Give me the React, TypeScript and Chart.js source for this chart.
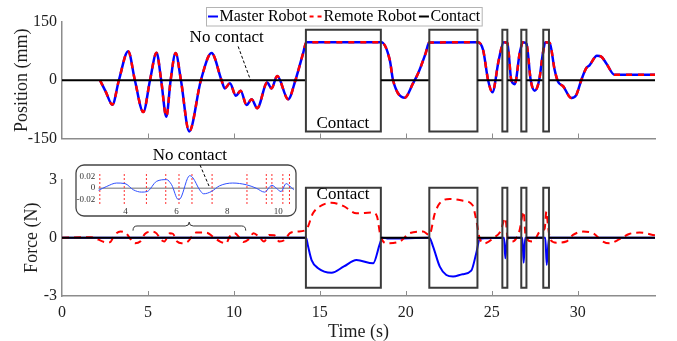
import React, { useEffect, useRef } from 'react';
import { Chart, registerables } from 'chart.js';
Chart.register(...registerables);

const FONT = "'Liberation Serif', 'Times New Roman', serif";

// ---------- data ----------
const timeMax = 34.5;
const timeTicks = [0, 5, 10, 15, 20, 25, 30];
const posTicks = [-150, 0, 150];
const forceTicks = [-3, 0, 3];

const posTime = [2.21, 2.55, 2.93, 3.31, 3.85, 4.24, 4.73, 5.12, 5.5, 5.77, 6.07, 6.32, 6.61, 6.92, 7.4, 8.08, 8.7, 9.28, 9.47, 9.77, 10.12, 10.39, 10.74, 11.03, 11.36, 11.94, 12.19, 12.52, 13.16, 13.58, 14.03, 14.22, 18.58, 19.07, 19.26, 19.94, 20.42, 20.72, 21.16, 21.36, 24.2, 24.5, 24.79, 25.04, 25.41, 25.7, 25.91, 26.14, 26.34, 26.63, 26.82, 27.02, 27.27, 27.5, 27.76, 27.98, 28.12, 28.37, 28.66, 28.86, 29.15, 29.63, 29.92, 30.21, 30.5, 30.7, 31.12, 31.37, 31.66, 32.15, 34.5];
const masterPos = [0, -30, -63, 0, 75, 0, -82, 0, 71, 0, -94, 0, 70, 0, -132, 0, 70, 0, -21, -8, -40, -27, -64, -49, -72, -6, -21, 11, -49, 0, 70, 98, 98, 52, 0, -45, -8, 18, 70, 97, 98, 78, 0, -31, 52, 98, 96, 0, -10, 70, 98, 94, 0, -27, 0, 70, 98, 96, 27, -4, -15, -46, -38, 0, 31, 39, 63, 61, 44, 14, 14];
const remotePos = [0, -30, -63, 0, 75, 0, -82, 0, 71, 0, -94, 0, 70, 0, -132, 0, 70, 0, -21, -8, -40, -27, -64, -49, -72, -6, -21, 11, -49, 0, 70, 98, 98, 52, 0, -45, -8, 18, 70, 97, 98, 78, 0, -31, 52, 98, 96, 0, -10, 70, 98, 94, 0, -27, 0, 70, 98, 96, 27, -4, -15, -46, -38, 0, 31, 39, 63, 61, 44, 14, 14];

const masterForceTime = [0, 14.2, 14.32, 14.52, 14.9, 15.68, 16.4, 17.13, 18.1, 18.5, 18.64, 19.0, 21.37, 21.59, 21.98, 22.36, 22.75, 23.3, 23.81, 24.1, 24.3, 24.6, 25.72, 25.79, 25.91, 26.78, 26.86, 26.95, 28.12, 28.2, 28.33, 34.5];
const masterForce = [0, 0, -0.46, -1.15, -1.57, -1.8, -1.48, -1.15, -1.32, -0.29, 0, -0.05, 0, -0.46, -1.49, -1.92, -2.0, -1.88, -1.7, -0.8, -0.08, -0.03, 0, -1.06, 0, 0, -1.29, 0, 0, -1.4, 0, 0];

const remoteForceTime = [0, 1.7, 2.45, 2.78, 3.06, 3.4, 3.74, 3.95, 4.25, 4.55, 4.82, 5.2, 5.5, 5.75, 5.95, 6.28, 6.45, 6.7, 6.95, 7.3, 7.8, 8.4, 8.78, 9.2, 9.55, 9.75, 10.05, 10.35, 10.55, 10.85, 11.15, 11.45, 11.75, 12.05, 12.35, 12.65, 12.95, 13.26, 13.7, 14.2, 14.6, 14.99, 15.68, 16.36, 17.13, 18.1, 18.33, 18.52, 18.86, 19.65, 20.23, 21.0, 21.37, 21.69, 21.98, 22.56, 23.33, 23.88, 24.1, 24.3, 24.59, 25.08, 25.5, 25.8, 25.92, 26.2, 26.6, 26.86, 26.98, 27.4, 27.85, 28.08, 28.18, 28.27, 28.4, 28.76, 29.34, 29.73, 30.31, 30.89, 31.47, 31.86, 32.44, 33.0, 33.6, 34.5];
const remoteForce = [0, 0.02, -0.22, -0.24, 0.14, 0.32, 0.22, -0.03, -0.29, -0.2, 0.19, 0.31, 0.22, -0.1, -0.2, 0.23, 0.2, -0.2, -0.29, -0.22, 0.26, 0.26, 0.05, -0.2, -0.29, 0.05, 0.23, -0.03, -0.22, -0.1, 0.23, 0.05, -0.2, 0.14, 0.12, -0.2, -0.12, 0.23, 0.31, 0.4, 1.25, 1.6, 1.8, 1.63, 1.25, 1.29, 1.08, 0.14, -0.29, -0.2, 0.23, 0.31, 0.14, 1.25, 1.77, 1.99, 1.9, 1.68, 0.91, -0.03, -0.29, -0.03, 0.31, 1.0, 0.0, -0.2, 0.31, 1.34, 0.0, -0.2, 0.35, 0.46, 1.34, 0.65, -0.08, -0.26, -0.2, 0.14, 0.31, 0.23, -0.2, -0.29, -0.08, 0.19, 0.26, 0.12];

const contactStart = [14.19, 21.37, 25.62, 26.72, 28.0];
const contactEnd = [18.55, 24.17, 25.91, 27.02, 28.33];
const posBoxHigh = 130;
const posBoxLow = -132;
const forceBoxHigh = 2.57;
const forceBoxLow = -2.57;

// inset (zoom of master force during no contact)
const insetMin = 2.93;
const insetMax = 10.63;
const insetYMin = -0.028;
const insetYMax = 0.029;
const insetTimeTicks = [4, 6, 8, 10];
const insetForceTicks = [-0.02, 0, 0.02];
const insetTime = [2.93, 3.26, 3.65, 3.98, 4.31, 4.63, 4.85, 5.22, 5.61, 5.81, 6.07, 6.16, 6.52, 6.65, 6.91, 7.07, 7.37, 7.69, 8.21, 8.74, 9.13, 9.46, 9.75, 9.92, 10.11, 10.31, 10.44, 10.61];
const insetForce = [-0.004, 0.003, 0.009, 0.008, -0.003, -0.007, -0.006, 0.012, 0.015, 0.006, -0.02, -0.018, 0.022, 0.018, -0.003, -0.01, -0.006, 0.004, 0.009, 0.006, 0, -0.007, 0.005, 0, -0.006, 0.008, 0.004, -0.003];
const insetContactTimes = [2.99, 3.95, 4.82, 5.58, 6.1, 6.61, 7.4, 8.77, 9.53, 9.75, 10.18, 10.44];

// ---------- helpers ----------
const AXIS = '#8c8c8c';
const TXT = '#1e1e1e';
const zip = (xs: number[], ys: number[]) => xs.map((x, i) => ({ x, y: ys[i] }));
const setTicks = (vals: number[]) => (scale: any) => { scale.ticks = vals.map((v) => ({ value: v })); };
const fixW = (w: number) => (scale: any) => { scale.width = w; scale.paddingTop = 0; scale.paddingBottom = 0; };
const fixH = (h: number) => (scale: any) => { scale.height = h; scale.paddingLeft = 0; scale.paddingRight = 0; };

function contactLine(high: number, low: number) {
  const pts: any[] = [{ x: 0, y: 0 }];
  contactStart.forEach((s, i) => {
    const e = contactEnd[i];
    pts.push({ x: s, y: 0 }, { x: s, y: high }, { x: e, y: high }, { x: e, y: low }, { x: s, y: low }, { x: s, y: 0 }, { x: (s + e) / 2, y: null }, { x: e, y: 0 });
  });
  pts.push({ x: timeMax, y: 0 });
  return pts;
}

const segColor = (ctx: any) => (ctx.p0.parsed.y === 0 && ctx.p1.parsed.y === 0 ? '#000000' : '#3a3a3a');

const inwardTicks = {
  id: 'inwardTicks',
  afterDraw(chart: any) {
    const xs = chart.scales.x;
    const ctx = chart.ctx;
    ctx.save();
    ctx.strokeStyle = AXIS;
    ctx.lineWidth = 1;
    xs.ticks.forEach((t: any) => {
      if (t.value <= xs.min) return;
      const px = Math.round(xs.getPixelForValue(t.value)) + 0.5;
      ctx.beginPath();
      ctx.moveTo(px, xs.top);
      ctx.lineTo(px, xs.top - 5);
      ctx.stroke();
    });
    ctx.restore();
  },
};

function dashedLeader(ctx: any, x1: number, y1: number, x2: number, y2: number) {
  ctx.save();
  ctx.strokeStyle = '#000';
  ctx.lineWidth = 1;
  ctx.setLineDash([3, 2]);
  ctx.beginPath();
  ctx.moveTo(x1, y1);
  ctx.lineTo(x2, y2);
  ctx.stroke();
  ctx.restore();
}

function text(ctx: any, s: string, x: number, y: number, size: number, align = 'center') {
  ctx.save();
  ctx.font = `${size}px ${FONT}`;
  ctx.fillStyle = '#000';
  ctx.textAlign = align;
  ctx.textBaseline = 'middle';
  ctx.fillText(s, x, y);
  ctx.restore();
}

const topAnnotations = {
  id: 'topAnnotations',
  afterDraw(chart: any) {
    const { ctx } = chart;
    const xs = chart.scales.x;
    const ys = chart.scales.y;
    const px = (v: number) => xs.getPixelForValue(v);
    const py = (v: number) => ys.getPixelForValue(v);
    text(ctx, 'No contact', px(9.58), py(110), 17);
    dashedLeader(ctx, px(10.25), py(87), px(10.97), py(0));
    text(ctx, 'Contact', px(16.34), py(-111), 17);

    // legend
    ctx.save();
    ctx.font = `16px ${FONT}`;
    const yMid = 16.5;
    let x = 208;
    const items = [
      { label: 'Master Robot', color: '#0000ff', dash: [] as number[], w: 10 },
      { label: 'Remote Robot', color: '#ff0000', dash: [4, 4], w: 12.5 },
      { label: 'Contact', color: '#000000', dash: [] as number[], w: 10 },
    ];
    const widths = items.map((it) => ctx.measureText(it.label).width);
    let total = 0;
    items.forEach((it, i) => { total += it.w + 1.5 + widths[i] + (i < items.length - 1 ? 2.5 : 1.5); });
    ctx.fillStyle = '#ffffff';
    ctx.fillRect(206, 7, total + 2.5, 19);
    ctx.strokeStyle = '#b4b4b4';
    ctx.lineWidth = 1;
    ctx.strokeRect(206.5, 7.5, total + 2, 18.5);
    items.forEach((it, i) => {
      ctx.strokeStyle = it.color;
      ctx.lineWidth = 2;
      ctx.setLineDash(it.dash);
      ctx.beginPath();
      ctx.moveTo(x, yMid);
      ctx.lineTo(x + it.w, yMid);
      ctx.stroke();
      ctx.setLineDash([]);
      x += it.w + 1.5;
      ctx.fillStyle = '#000';
      ctx.textAlign = 'left';
      ctx.textBaseline = 'middle';
      ctx.fillText(it.label, x, yMid + 0.5);
      x += widths[i] + 2.5;
    });
    ctx.restore();
  },
};

const bottomAnnotations = {
  id: 'bottomAnnotations',
  afterDraw(chart: any) {
    const { ctx } = chart;
    const xs = chart.scales.x;
    const ys = chart.scales.y;
    const px = (v: number) => xs.getPixelForValue(v);
    const py = (v: number) => ys.getPixelForValue(v);
    text(ctx, 'No contact', px(7.44), py(4.2), 17);
    text(ctx, 'Contact', px(16.35), py(2.2), 17);
    // brace
    const x1 = px(4.13), x2 = px(10.69), xm = px(7.4);
    const yb = py(0.36), yh = py(0.6), yt = py(0.8);
    ctx.save();
    ctx.strokeStyle = '#333';
    ctx.lineWidth = 1;
    ctx.beginPath();
    ctx.moveTo(x1, yb);
    ctx.quadraticCurveTo(x1, yh, x1 + 4, yh);
    ctx.lineTo(xm - 4, yh);
    ctx.quadraticCurveTo(xm, yh, xm, yt);
    ctx.quadraticCurveTo(xm, yh, xm + 4, yh);
    ctx.lineTo(x2 - 4, yh);
    ctx.quadraticCurveTo(x2, yh, x2, yb);
    ctx.stroke();
    ctx.restore();
  },
};

const insetFrame = {
  id: 'insetFrame',
  beforeDraw(chart: any) {
    const { ctx, width, height } = chart;
    ctx.save();
    ctx.fillStyle = '#ffffff';
    ctx.strokeStyle = '#444';
    ctx.lineWidth = 1.3;
    ctx.beginPath();
    ctx.roundRect(1, 1, width - 2, height - 2, 8);
    ctx.fill();
    ctx.stroke();
    ctx.restore();
  },
  afterDraw(chart: any) {
    dashedLeader(chart.ctx, 125, 1, 134, 22);
  },
};

const baseOpts = {
  responsive: false,
  animation: false,
  devicePixelRatio: 1,
  events: [],
  plugins: { legend: { display: false }, tooltip: { enabled: false } },
};

const posFont = { family: FONT, size: 16 };
const titleFont = { family: FONT, size: 18, lineHeight: 1 };

function makeTop(): any {
  return {
    type: 'line',
    data: {
      datasets: [
        { label: 'Contact', data: contactLine(posBoxHigh, posBoxLow), borderColor: '#000', borderWidth: 2, pointRadius: 0, tension: 0, spanGaps: false, borderJoinStyle: 'miter', segment: { borderColor: segColor }, order: 0 },
        { label: 'Remote Robot', data: zip(posTime, remotePos), borderColor: '#ff0000', borderDash: [6, 6], borderWidth: 2.5, pointRadius: 0, cubicInterpolationMode: 'monotone', order: 1 },
        { label: 'Master Robot', data: zip(posTime, masterPos), borderColor: '#0000ff', borderWidth: 2.5, pointRadius: 0, cubicInterpolationMode: 'monotone', order: 2 },
      ],
    },
    options: {
      ...baseOpts,
      layout: { padding: { left: 0, right: 22, top: 22, bottom: 0 } },
      scales: {
        x: { type: 'linear', min: 0, max: timeMax, afterBuildTicks: setTicks(timeTicks), afterFit: fixH(11.5), ticks: { display: false }, grid: { display: false, drawTicks: false }, border: { display: true, color: AXIS, width: 1.5 } },
        y: { type: 'linear', min: -150, max: 150, afterBuildTicks: setTicks(posTicks), afterFit: fixW(62), ticks: { font: posFont, color: TXT, padding: 5, callback: (v: any) => String(v) }, grid: { display: false, drawTicks: false }, border: { display: true, color: AXIS, width: 1.5 }, title: { display: true, text: 'Position (mm)', font: titleFont, color: TXT, padding: { top: 13, bottom: 0 } } },
      },
    },
    plugins: [inwardTicks, topAnnotations],
  };
}

function makeBottom(): any {
  return {
    type: 'line',
    data: {
      datasets: [
        { label: 'Contact', data: contactLine(forceBoxHigh, forceBoxLow), borderColor: '#000', borderWidth: 2, pointRadius: 0, tension: 0, spanGaps: false, borderJoinStyle: 'miter', segment: { borderColor: segColor }, order: 0 },
        { label: 'Remote Robot', data: zip(remoteForceTime, remoteForce), borderColor: '#ff0000', borderDash: [7, 5], borderWidth: 2, pointRadius: 0, cubicInterpolationMode: 'monotone', order: 1 },
        { label: 'Master Robot', data: zip(masterForceTime, masterForce), borderColor: '#0000ff', borderWidth: 2, pointRadius: 0, cubicInterpolationMode: 'monotone', order: 2 },
      ],
    },
    options: {
      ...baseOpts,
      layout: { padding: { left: 0, right: 22, top: 39.3, bottom: 0 } },
      scales: {
        x: { type: 'linear', min: 0, max: timeMax, afterBuildTicks: setTicks(timeTicks), afterFit: fixH(45), ticks: { font: posFont, color: TXT, padding: 7, maxRotation: 0, callback: (v: any) => String(v) }, grid: { display: false, drawTicks: false }, border: { display: true, color: AXIS, width: 1.5 }, title: { display: true, text: 'Time (s)', font: titleFont, color: TXT, padding: { top: 0, bottom: 0 } } },
        y: { type: 'linear', min: -3, max: 3, afterBuildTicks: setTicks(forceTicks), afterFit: fixW(62), ticks: { font: posFont, color: TXT, padding: 5, callback: (v: any) => String(v) }, grid: { display: false, drawTicks: false }, border: { display: true, color: AXIS, width: 1.5 }, title: { display: true, text: 'Force (N)', font: titleFont, color: TXT, padding: { top: 23, bottom: 0 } } },
      },
    },
    plugins: [inwardTicks, bottomAnnotations],
  };
}

function makeInset(): any {
  const verticals: any[] = [];
  insetContactTimes.forEach((t) => { verticals.push({ x: t, y: insetYMin }, { x: t, y: insetYMax }, { x: t, y: null }); });
  const smallFont = { family: FONT, size: 9 };
  return {
    type: 'line',
    data: {
      datasets: [
        { label: 'Master Robot', data: zip(insetTime, insetForce), borderColor: '#3050ff', borderWidth: 1, pointRadius: 0, cubicInterpolationMode: 'monotone', order: 0 },
        { label: 'contacts', data: verticals, borderColor: '#ff3030', borderDash: [2, 2], borderWidth: 1, pointRadius: 0, tension: 0, spanGaps: false, order: 1 },
        { label: 'zero', data: [{ x: insetMin, y: 0 }, { x: insetMax, y: 0 }], borderColor: '#a0a0a0', borderWidth: 1.5, pointRadius: 0, tension: 0, order: 2 },
      ],
    },
    options: {
      ...baseOpts,
      layout: { padding: { left: 0, right: 2.7, top: 7.7, bottom: 0 } },
      scales: {
        x: { type: 'linear', min: insetMin, max: insetMax, afterBuildTicks: setTicks(insetTimeTicks), afterFit: fixH(13), ticks: { font: smallFont, color: '#333', padding: 2, maxRotation: 0, callback: (v: any) => String(v) }, grid: { display: false, drawTicks: false }, border: { display: false } },
        y: { type: 'linear', min: insetYMin, max: insetYMax, afterBuildTicks: setTicks(insetForceTicks), afterFit: fixW(23.3), ticks: { font: smallFont, color: '#333', padding: 3, callback: (v: any) => String(+Number(v).toFixed(2)) }, grid: { display: false, drawTicks: false }, border: { display: false } },
      },
    },
    plugins: [insetFrame],
  };
}

function ChartCanvas({ make, left, top, width, height }: { make: () => any; left: number; top: number; width: number; height: number }) {
  const ref = useRef<HTMLCanvasElement>(null);
  useEffect(() => {
    const chart = new Chart(ref.current as HTMLCanvasElement, make());
    return () => chart.destroy();
  }, []);
  return <canvas ref={ref} width={width} height={height} style={{ position: 'absolute', left, top, width, height }} />;
}

export default function App() {
  return (
    <div style={{ position: 'fixed', left: 0, top: 0, width: 677, height: 341, background: '#ffffff', overflow: 'hidden' }}>
      <ChartCanvas make={makeTop} left={0} top={0} width={677} height={150} />
      <ChartCanvas make={makeBottom} left={0} top={140} width={677} height={201} />
      <ChartCanvas make={makeInset} left={75} top={164} width={222} height={53} />
    </div>
  );
}
